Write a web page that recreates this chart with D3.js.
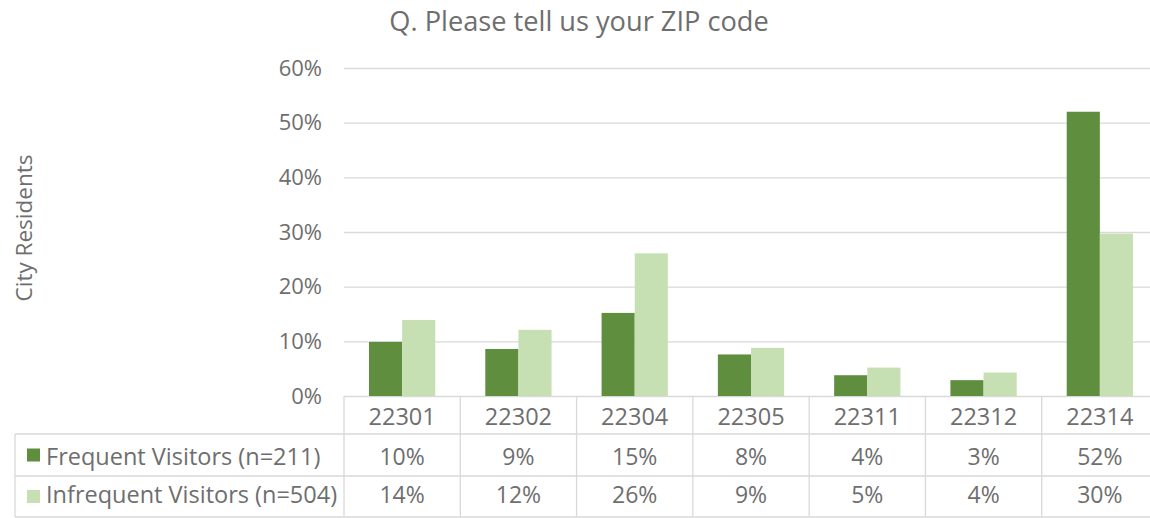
<!DOCTYPE html>
<html>
<head>
<meta charset="utf-8">
<script src="https://cdn.jsdelivr.net/npm/d3@7"></script>
<style>
  body { margin: 0; background: #fff; }
  text { font-family: "Open Sans", sans-serif; fill: #6e6e6e; }
</style>
</head>
<body>
<div id="chart"></div>
<script>
// Data
var zipCodes = ["22301", "22302", "22304", "22305", "22311", "22312", "22314"];
var frequent = [9.9, 8.6, 15.2, 7.6, 3.8, 2.9, 52.0];
var infrequent = [13.9, 12.1, 26.1, 8.8, 5.2, 4.3, 29.7];
var frequentLabels = ["10%", "9%", "15%", "8%", "4%", "3%", "52%"];
var infrequentLabels = ["14%", "12%", "26%", "9%", "5%", "4%", "30%"];
var seriesNames = ["Frequent Visitors (n=211)", "Infrequent Visitors (n=504)"];
var yTicks = [0, 10, 20, 30, 40, 50, 60];

var svgWidth = 1150;
var svgHeight = 518;

var colors = ["#5f8f3e", "#c6e0b4"];
var gridColor = "#d9d9d9";

var svg = d3.select("#chart")
  .append("svg")
  .attr("width", svgWidth)
  .attr("height", svgHeight);

// Scales
var x0 = d3.scaleBand()
  .domain(zipCodes)
  .range([344, 1158])
  .paddingInner(0.43)
  .paddingOuter(0.215);

var x1 = d3.scaleBand()
  .domain([0, 1])
  .range([0, x0.bandwidth()]);

var y = d3.scaleLinear()
  .domain([0, 60])
  .range([396, 68]);

// Title
svg.append("text")
  .attr("x", 579)
  .attr("y", 31)
  .attr("text-anchor", "middle")
  .attr("font-size", 27.2)
  .text("Q. Please tell us your ZIP code");

// Y label
svg.append("text")
  .attr("transform", "translate(32, 228) rotate(-90)")
  .attr("text-anchor", "middle")
  .attr("font-size", 22.5)
  .text("City Residents");

// Gridlines and tick labels
var leftAxis = d3.axisLeft(y)
  .tickValues(yTicks)
  .tickFormat(d => d + "%")
  .tickSize(-(1158 - 344))
  .tickPadding(22);

var axisG = svg.append("g")
  .attr("transform", "translate(344, 0)")
  .call(leftAxis);
axisG.select(".domain").remove();
axisG.selectAll(".tick line").attr("stroke", gridColor).attr("stroke-width", 1.3);
axisG.selectAll(".tick text")
  .attr("font-size", 22)
  .attr("font-family", "Open Sans, sans-serif")
  .attr("fill", "#6e6e6e");

// Bars
var seriesValues = [frequent, infrequent];
var groups = svg.selectAll(".zip")
  .data(zipCodes)
  .enter()
  .append("g")
  .attr("class", "zip")
  .attr("transform", d => `translate(${x0(d)}, 0)`);

groups.selectAll("rect")
  .data((d, i) => seriesValues.map((s, k) => ({ k: k, v: s[i] })))
  .enter()
  .append("rect")
  .attr("x", d => x1(d.k))
  .attr("y", d => y(d.v))
  .attr("width", x1.bandwidth())
  .attr("height", d => y(0) - y(d.v))
  .attr("fill", d => colors[d.k]);

// Data table below the plot
var tableLeft = 15;
var rowTops = [396, 434, 476, 517];
var step = x0.step();
var edges = zipCodes.map(d => x0(d) - x0.paddingOuter() * step).concat([1158]);

var table = svg.append("g").attr("stroke", gridColor).attr("stroke-width", 1.3);
// horizontal lines
[1, 2, 3].forEach(function(r) {
  table.append("line").attr("x1", tableLeft).attr("x2", 1158).attr("y1", rowTops[r]).attr("y2", rowTops[r]);
});
table.append("line").attr("x1", tableLeft).attr("x2", tableLeft).attr("y1", rowTops[1]).attr("y2", rowTops[3]);
// vertical lines
table.selectAll(".vline")
  .data(edges)
  .enter()
  .append("line")
  .attr("x1", d => d).attr("x2", d => d)
  .attr("y1", rowTops[0]).attr("y2", rowTops[3]);

// zip codes
svg.selectAll(".ziplabel")
  .data(zipCodes)
  .enter()
  .append("text")
  .attr("x", d => x0(d) + x0.bandwidth() / 2)
  .attr("y", 425)
  .attr("text-anchor", "middle")
  .attr("font-size", 23.5)
  .text(d => d);

var labelRows = [frequentLabels, infrequentLabels];
var baselines = [465, 503];
labelRows.forEach(function(row, r) {
  var cy = (rowTops[r + 1] + rowTops[r + 2]) / 2;
  svg.selectAll(".val" + r)
    .data(row)
    .enter()
    .append("text")
    .attr("x", (d, i) => x0(zipCodes[i]) + x0.bandwidth() / 2)
    .attr("y", baselines[r])
    .attr("text-anchor", "middle")
    .attr("font-size", 23)
    .text(d => d);

  svg.append("rect")
    .attr("x", 27)
    .attr("y", cy - 6.5)
    .attr("width", 13)
    .attr("height", 13)
    .attr("fill", colors[r]);

  svg.append("text")
    .attr("x", 46)
    .attr("y", baselines[r])
    .attr("font-size", 23.5)
    .text(seriesNames[r]);
});
</script>
</body>
</html>
